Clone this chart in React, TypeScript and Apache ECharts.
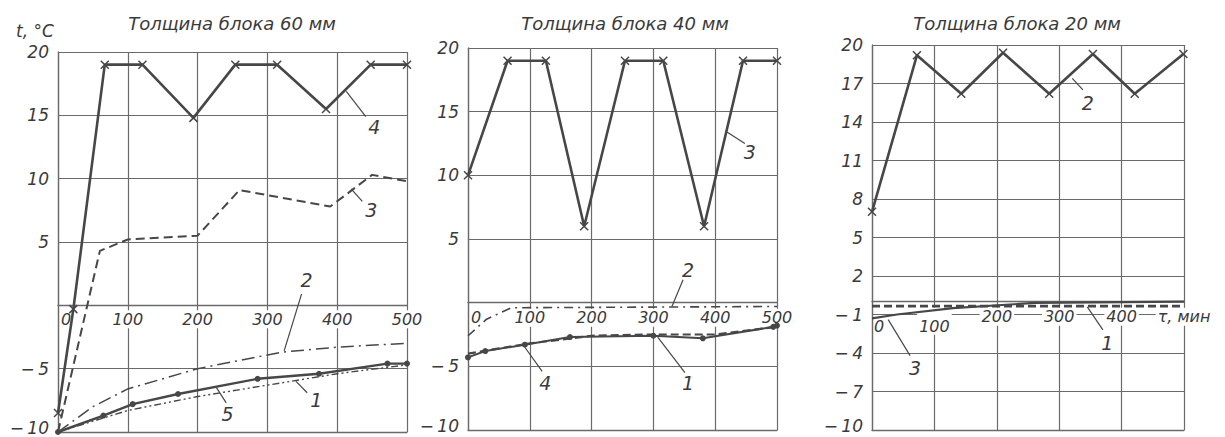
import React, { useEffect, useRef } from 'react';
import * as echarts from 'echarts';

// ---------- data ----------
const TITLES = ['Толщина блока 60 мм', 'Толщина блока 40 мм', 'Толщина блока 20 мм'];
const X_TICKS = [0, 100, 200, 300, 400, 500];

// Panel 1 — 60 mm
const A1 = [[0, -10], [100, -8.3], [200, -7.2], [300, -6.3], [400, -5.4], [500, -4.7]];
const A2 = [[0, -10], [50, -8], [100, -6.6], [200, -5.0], [320, -3.7], [400, -3.3], [500, -3.0]];
const A3 = [[0, -10], [60, 4.3], [100, 5.2], [200, 5.5], [260, 9.1], [390, 7.8], [450, 10.3], [500, 9.8]];
const A4 = [[0, -8.5], [22, -0.3], [67, 19], [121, 19], [194, 14.8], [254, 19], [314, 19], [384, 15.5], [448, 19], [500, 19]];
const A5 = [[0, -10], [65, -8.7], [107, -7.8], [172, -7.0], [286, -5.8], [374, -5.4], [472, -4.6], [500, -4.6]];

// Panel 2 — 40 mm
const B1 = [[0, -4.0], [100, -3.2], [200, -2.6], [300, -2.5], [400, -2.5], [500, -1.9]];
const B2 = [[0, -2.6], [30, -1.3], [70, -0.4], [500, -0.3]];
const B3 = [[0, 10], [64, 19], [126, 19], [188, 6], [254, 19], [316, 19], [382, 6], [445, 19], [500, 19]];
const B4 = [[0, -4.3], [28, -3.8], [92, -3.3], [165, -2.7], [300, -2.6], [380, -2.8], [494, -1.9], [500, -1.8]];

// Panel 3 — 20 mm
const C1 = [[0, -0.35], [100, -0.35], [200, -0.35], [300, -0.35], [400, -0.35], [500, -0.35]];
const C2 = [[0, 7], [72, 19.2], [143, 16.2], [210, 19.4], [284, 16.2], [354, 19.3], [421, 16.2], [499, 19.3]];
const C3 = [[0, -1.3], [40, -1.0], [130, -0.5], [260, -0.1], [500, 0]];

// curve number labels (data coordinates of text, leader start, leader end)
const NOTES = [
  { g: 0, t: '4', at: [453, 14.1], from: [413, 16.9], to: [441, 14.9] },
  { g: 0, t: '3', at: [449, 7.5], from: [420, 9.2], to: [436, 8.2] },
  { g: 0, t: '2', at: [356, 2.0], from: [349, 0.9], to: [324, -3.6] },
  { g: 0, t: '5', at: [243, -8.6], from: [227, -6.5], to: [241, -7.7] },
  { g: 0, t: '1', at: [370, -7.5], from: [341, -6.0], to: [357, -6.9] },
  { g: 1, t: '2', at: [356, 2.6], from: [348, 1.8], to: [330, -0.3] },
  { g: 1, t: '1', at: [356, -6.3], from: [307, -2.7], to: [351, -5.5] },
  { g: 1, t: '4', at: [125, -6.3], from: [92, -3.5], to: [120, -5.4] },
  { g: 1, t: '3', at: [456, 11.8], from: [419, 13.4], to: [448, 12.5] },
  { g: 2, t: '2', at: [346, 15.5], from: [321, 17.4], to: [338, 16.5] },
  { g: 2, t: '1', at: [377, -3.2], from: [345, -0.4], to: [370, -2.2] },
  { g: 2, t: '3', at: [69, -5.2], from: [26, -1.4], to: [61, -4.2] },
];

// ---------- styles ----------
const INK = '#474747';
const GRIDC = '#6a6a6a';
const TXT = '#3a3a3a';
const FONT = 'DejaVu Sans';
const CROSS = 'path://M0,0L10,10M10,0L0,10';
const Y_MIN = -10;
const Y_MAX = 20;

const GRIDS = [
  { left: 58, top: 52, width: 349, height: 380 },
  { left: 468, top: 48, width: 309, height: 382 },
  { left: 872, top: 45, width: 312, height: 385 },
];
const X_LABEL_MARGIN = [5, 6, 6];

const txtBase = { fontFamily: FONT, fontStyle: 'italic', fontSize: 16, color: TXT };

function lineSeries(g: number, data: number[][], opts: any) {
  return {
    type: 'line',
    xAxisIndex: g,
    yAxisIndex: g,
    data,
    smooth: false,
    showSymbol: !!opts.symbol,
    symbol: opts.symbol || 'none',
    symbolSize: opts.symbolSize || 8,
    lineStyle: { color: INK, width: opts.width || 2, type: opts.type || 'solid' },
    itemStyle: opts.symbol === CROSS
      ? { color: 'transparent', borderColor: INK, borderWidth: 1.5 }
      : { color: INK, borderColor: INK, borderWidth: 0 },
    silent: true,
    z: opts.z || 3,
  };
}

function yLabel(hideZero: boolean) {
  return (v: number) => {
    if (v === 0 && hideZero) return '';
    const s = v < 0 ? '\u2212\u2009' + Math.abs(v) : String(v);
    return v === Y_MIN ? '{b|' + s + '}' : '{n|' + s + '}';
  };
}

export default function App() {
  const ref = useRef<HTMLDivElement>(null);
  useEffect(() => {
    if (!ref.current) return;
    const chart = echarts.init(ref.current, undefined, { renderer: 'svg' });

    // helper grids whose bottom edge lies on the y = 0 line (carry the x tick labels)
    const zeroGrids = GRIDS.map((g) => ({
      left: g.left,
      width: g.width,
      top: g.top,
      height: (g.height * (Y_MAX - 0)) / (Y_MAX - Y_MIN),
    }));

    const richN = { ...txtBase, backgroundColor: '#fff', padding: [1, 2, 1, 2] };

    const mainX = [0, 1, 2].map((g) => ({
      type: 'value',
      gridIndex: g,
      min: X_TICKS[0],
      max: X_TICKS[X_TICKS.length - 1],
      interval: 100,
      axisLine: { show: true, onZero: false, lineStyle: { color: GRIDC, width: 1.3 } },
      axisTick: { show: false },
      splitLine: { show: true, lineStyle: { color: GRIDC, width: 1.2 } },
      axisLabel: { show: false },
      z: 1,
    }));

    const labelX = [0, 1, 2].map((g) => ({
      type: 'value',
      gridIndex: 3 + g,
      min: X_TICKS[0],
      max: X_TICKS[X_TICKS.length - 1],
      interval: 100,
      axisLine: { show: true, onZero: false, lineStyle: { color: GRIDC, width: 1.3 } },
      axisTick: { show: false },
      splitLine: { show: false },
      axisLabel: {
        show: true,
        margin: X_LABEL_MARGIN[g],
        ...txtBase,
        formatter: (v: number) => {
          if (g === 2) {
            if (v === 0) return '{z3|0}';
            if (v === 100) return '{lo|100}';
            if (v === 500) return '{n|\u03c4, мин}';
            return '{n|' + v + '}';
          }
          if (v === 0) return '{z|0}';
          return '{n|' + v + '}';
        },
        rich: {
          n: richN,
          lo: { ...richN, padding: [11, 2, 0, 2] },
          z: { ...txtBase, padding: [1, 0, 1, 16] },
          z3: { ...txtBase, padding: [11, 0, 0, 14] },
        },
      },
      z: 2,
    }));

    const yTxt = { ...txtBase, fontSize: 17 };
    const mainY = [0, 1, 2].map((g) => ({
      type: 'value',
      gridIndex: g,
      min: Y_MIN,
      max: Y_MAX,
      interval: g === 2 ? 3 : 5,
      axisLine: { show: true, onZero: false, lineStyle: { color: GRIDC, width: 1.3 } },
      axisTick: { show: false },
      splitLine: { show: true, lineStyle: { color: GRIDC, width: 1.2 } },
      axisLabel: {
        show: true,
        margin: 9,
        ...yTxt,
        formatter: yLabel(g !== 2),
        rich: {
          n: yTxt,
          b: { ...yTxt, padding: [0, 0, 9, 0] },
        },
      },
      z: 1,
    }));

    const labelY = [0, 1, 2].map((g) => ({
      type: 'value',
      gridIndex: 3 + g,
      min: 0,
      max: Y_MAX,
      show: false,
    }));

    const series = [
      lineSeries(0, A1, { type: [7, 3, 2, 3, 2, 3], width: 1.4 }),
      lineSeries(0, A2, { type: [13, 5, 2, 5], width: 1.5 }),
      lineSeries(0, A3, { type: [9, 5], width: 2 }),
      lineSeries(0, A4, { symbol: CROSS, symbolSize: 8, width: 2.6, z: 4 }),
      lineSeries(0, A5, { symbol: 'circle', symbolSize: 6, width: 2.4 }),
      lineSeries(1, B1, { type: [8, 4], width: 2.2 }),
      lineSeries(1, B2, { type: [9, 5, 2, 5], width: 1.6 }),
      lineSeries(1, B3, { symbol: CROSS, symbolSize: 8, width: 2.6, z: 4 }),
      lineSeries(1, B4, { symbol: 'circle', symbolSize: 6, width: 2 }),
      lineSeries(2, C1, { type: [8, 4], width: 2.6 }),
      lineSeries(2, C2, { symbol: CROSS, symbolSize: 8, width: 2.6, z: 4 }),
      lineSeries(2, C3, { width: 2.2 }),
    ];

    chart.setOption({
      animation: false,
      backgroundColor: '#fff',
      grid: [...GRIDS, ...zeroGrids].map((g) => ({ ...g, containLabel: false, outerBoundsMode: 'none' })),
      xAxis: [...mainX, ...labelX],
      yAxis: [...mainY, ...labelY],
      series,
    });

    const titleCenters = [232, 625, 1017];
    const graphics: any[] = TITLES.map((t, i) => ({
      type: 'text',
      x: titleCenters[i],
      y: 23,
      style: {
        text: t,
        fontFamily: FONT,
        fontStyle: 'italic',
        fontSize: 18,
        fill: TXT,
        align: 'center',
        verticalAlign: 'middle',
      },
      z: 10,
    }));
    graphics.push({
      type: 'text',
      x: 16,
      y: 31,
      style: {
        text: 't, °C',
        fontFamily: FONT,
        fontStyle: 'italic',
        fontSize: 17,
        fill: TXT,
        align: 'left',
        verticalAlign: 'middle',
      },
      z: 10,
    });
    NOTES.forEach((n) => {
      const p = chart.convertToPixel({ gridIndex: n.g } as any, n.at) as number[];
      const a = chart.convertToPixel({ gridIndex: n.g } as any, n.from) as number[];
      const b = chart.convertToPixel({ gridIndex: n.g } as any, n.to) as number[];
      graphics.push({
        type: 'line',
        shape: { x1: a[0], y1: a[1], x2: b[0], y2: b[1] },
        style: { stroke: INK, lineWidth: 1.2 },
        z: 10,
      });
      graphics.push({
        type: 'text',
        x: p[0],
        y: p[1],
        style: {
          text: n.t,
          fontFamily: FONT,
          fontStyle: 'italic',
          fontSize: 19,
          fill: TXT,
          align: 'center',
          verticalAlign: 'middle',
        },
        z: 10,
      });
    });
    chart.setOption({ graphic: graphics });

    return () => chart.dispose();
  }, []);

  return (
    <div
      ref={ref}
      style={{ position: 'absolute', left: 0, top: 0, width: 1225, height: 437, background: '#fff' }}
    />
  );
}
